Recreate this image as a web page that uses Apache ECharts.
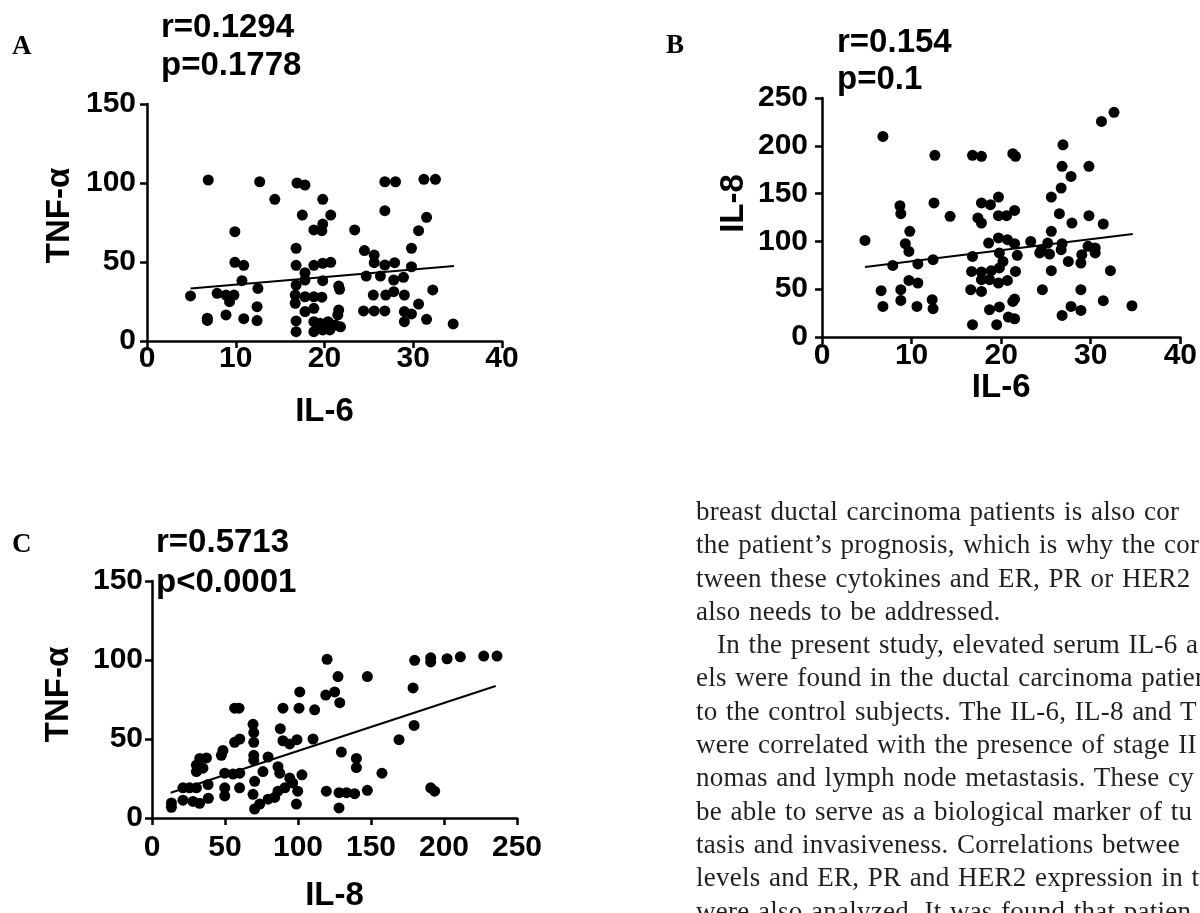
<!DOCTYPE html>
<html><head><meta charset="utf-8">
<script src="https://cdn.jsdelivr.net/npm/echarts@6/dist/echarts.min.js"></script>
<style>
html,body{margin:0;padding:0;background:#fff;overflow:hidden;}
#wrap{position:relative;width:1200px;height:913px;overflow:hidden;}
#c{position:absolute;left:0;top:0;width:1200px;height:913px;}
#para{position:absolute;left:696px;top:495px;width:700px;font-family:"Liberation Serif","Times New Roman",serif;font-size:27px;line-height:33.3px;color:#231f20;letter-spacing:0.25px;word-spacing:1.5px;white-space:nowrap;}
#para div.ind{text-indent:21px;}
</style>
</head><body><div id="wrap"><div id="c"></div><div id="para"></div></div>
<script>
// ---- Panel A: IL-6 vs TNF-α ----
const dataA = [[6.9,101.9],[12.7,100.8],[16.9,100],[17.8,98.7],[14.4,89.7],[19.8,89.7],[17.5,79.7],[20.7,79.7],[19.8,74],[18.8,70.3],[19.7,69.8],[9.9,69.2],[23.4,70.3],[26.8,82.5],[26.8,100.8],[28.0,100.8],[31.2,102.3],[32.5,102.3],[31.5,78.3],[30.6,69.8],[29.8,58.7],[16.8,58.7],[24.5,57.2],[25.6,54.4],[25.6,49.6],[26.8,48.1],[27.9,49.6],[9.9,49.8],[10.9,47.9],[16.8,47.9],[17.8,43.2],[18.8,47.9],[19.8,49.2],[20.7,49.8],[29.8,47],[24.7,41.1],[26.3,41.1],[10.7,38.2],[12.5,33.3],[16.8,35.4],[17.8,38.6],[19.8,38.2],[21.6,34.8],[21.7,32.7],[27.8,38.6],[27.8,31.2],[28.9,40.3],[32.2,32.3],[4.9,28.5],[7.9,30.2],[8.9,29.1],[9.8,29.1],[9.3,24.9],[16.7,29.1],[17.8,28],[18.8,28],[19.7,27.7],[25.5,29.1],[26.9,29.1],[29,29.1],[16.7,23.9],[12.4,21.7],[17.8,18.6],[18.8,20.7],[21.6,19.6],[21.5,16.5],[24.4,19],[25.6,19],[26.8,19],[29,18.6],[29.8,17.1],[30.6,23.4],[6.8,14.4],[6.8,13],[8.9,16.5],[10.9,14.1],[12.4,12.9],[16.8,12.7],[16.8,5.9],[18.8,12.2],[19.5,11.2],[20.4,12.2],[21.2,10.1],[18.8,5.9],[19.8,7],[20.6,7],[21.8,9],[29,12.2],[31.5,13.7],[34.5,10.8]];
const fitA = [[4.9,33.3],[34.6,47.5]];
const statsA = ['r=0.1294','p=0.1778'];

// ---- Panel B: IL-6 vs IL-8 ----
const dataB = [[4.8,101],[6.8,209.8],[12.6,190],[16.8,190],[17.8,189],[21.3,191.7],[21.6,189],[26.9,201],[26.8,178.5],[27.8,168],[29.8,178.5],[26.7,155.8],[25.6,146.4],[31.2,225.5],[32.6,235],[8.7,137.3],[8.8,129],[12.5,140.2],[14.3,126.2],[17.8,140.2],[18.8,138.4],[19.7,146.4],[17.4,124.5],[17.8,119.2],[19.7,126.9],[20.6,126.9],[21.5,132.4],[26.5,129],[27.9,119.2],[29.8,126.9],[31.4,118.2],[9.8,110.5],[9.3,97.6],[9.7,89.5],[25.6,110.5],[18.6,98.3],[19.7,103.6],[20.7,101.8],[21.5,97.6],[23.3,100],[25.2,98.3],[26.8,97.6],[24.5,91.3],[24.3,87.9],[25.4,86.8],[26.7,91.3],[29.7,94.8],[30.5,93.1],[30.5,87.9],[29,86.1],[28.9,77.4],[27.5,79.1],[21.8,85.4],[16.8,84.3],[19.8,87.9],[20.2,79.1],[12.4,80.9],[10.7,76.4],[7.9,74.9],[16.7,68.6],[17.8,68],[18.9,69.4],[19.8,72.2],[21.6,68.6],[25.6,69.4],[32.2,69.4],[17.8,60],[18.7,60],[19.7,56.5],[20.7,59.2],[9.7,59.2],[10.7,56.5],[6.6,48.4],[8.8,49.5],[8.8,38.3],[16.6,49.5],[17.8,47.7],[24.6,49.5],[28.9,49.5],[6.8,32],[10.6,32],[12.3,39],[12.4,29.6],[21.3,37.2],[21.5,39.7],[31.4,38],[34.6,32.7],[18.7,28.6],[19.8,31.4],[20.8,20.9],[21.5,19.1],[27.8,32],[28.9,27.8],[26.8,22.6],[16.8,12.9],[19.5,12.9]];
const fitB = [[4.8,73.2],[34.7,107.7]];
const statsB = ['r=0.154','p=0.1'];

// ---- Panel C: IL-8 vs TNF-α ----
const dataC = [[13.3,6.8],[13.3,9.5],[21.2,19.1],[25.8,19.1],[30.4,19.1],[21.2,11.3],[28.1,10.5],[32.6,9.3],[38.6,12.5],[30.4,33.5],[32.7,37.7],[37.3,38],[30.4,29.4],[34.9,31.5],[38.4,21.2],[47.5,39.7],[48.6,42.8],[49.8,28.4],[55.5,27.8],[60.1,28.4],[49.8,19.1],[49.8,14],[60,19.1],[56.6,47.9],[60.1,50],[56.6,69.5],[59.6,69.5],[69.2,59.3],[69.7,54.1],[69.7,47.9],[69.7,39.7],[69.7,36.6],[70.3,23.2],[76,29.4],[79.5,38.6],[86.3,32.5],[87.5,28.4],[69.2,15],[70.3,5.7],[73.8,8.8],[79.5,11.9],[84,13],[86.3,17],[87.9,56.5],[89.7,48.9],[94.3,46.9],[99.3,49.6],[89.7,69.5],[101.2,79.8],[100.7,69.5],[111.4,68.5],[110.3,50],[91,19.1],[96.3,22.2],[99.8,17],[98.9,8.8],[102.7,27.3],[94.3,25.3],[119.9,100.4],[119,77.8],[125.1,79.8],[127.4,89.5],[128.6,73],[129.7,41.7],[140,37.7],[140,31.9],[147.5,89.5],[119.4,17],[128.1,16],[133.2,16],[138.8,15.4],[128.1,6.4],[147.5,17.5],[157.5,28.4],[169.2,49.6],[179.5,58.6],[178.8,82.3],[179.9,99.8],[190.9,101.4],[190.9,98.8],[202.1,100.8],[211.2,102],[227.2,102.5],[236.3,102.5],[190.9,19.1],[193.6,17]];
const fitC = [[12.8,16],[235.4,83.5]];
const statsC = ['r=0.5713','p<0.0001'];

// axis titles and ticks
const axisNames = {A:['IL-6','TNF-α'], B:['IL-6','IL-8'], C:['IL-8','TNF-α']};
const xTicksA = [0,10,20,30,40], yTicksA = [0,50,100,150];
const xTicksB = [0,10,20,30,40], yTicksB = [0,50,100,150,200,250];
const xTicksC = [0,50,100,150,200,250], yTicksC = [0,50,100,150];
const panelLetters = ['A','B','C'];

const paragraphLines = [
  'breast ductal carcinoma patients is also cor',
  'the patient\u2019s prognosis, which is why the cor',
  'tween these cytokines and ER, PR or HER2',
  'also needs to be addressed.',
  'In the present study, elevated serum IL-6 a',
  'els were found in the ductal carcinoma patient',
  'to the control subjects. The IL-6, IL-8 and T',
  'were correlated with the presence of stage II',
  'nomas and lymph node metastasis. These cy',
  'be able to serve as a biological marker of tu',
  'tasis and invasiveness. Correlations betwee',
  'levels and ER, PR and HER2 expression in tu',
  'were also analyzed. It was found that patien'
];

const SANS = '"Liberation Sans", Arial, sans-serif';
const SERIF = '"Liberation Serif", "Times New Roman", serif';

function xAxis(gi, ticks, name, gap, lm) {
  return {
    type:'value', gridIndex:gi, min:ticks[0], max:ticks[ticks.length-1], interval:ticks[1]-ticks[0],
    name:name, nameLocation:'middle', nameGap:gap,
    nameTextStyle:{fontFamily:SANS, fontWeight:'bold', fontSize:33, color:'#000'},
    axisLine:{show:true, onZero:false, lineStyle:{color:'#000', width:2.5}},
    axisTick:{show:true, inside:false, length:7, lineStyle:{color:'#000', width:2.5}},
    axisLabel:{fontFamily:SANS, fontWeight:'bold', fontSize:30, color:'#000', margin:lm},
    splitLine:{show:false}
  };
}
function yAxis(gi, ticks, name, gap, lm, shift) {
  return {
    type:'value', gridIndex:gi, min:ticks[0], max:ticks[ticks.length-1], interval:ticks[1]-ticks[0],
    name:name, nameLocation:'middle', nameGap:gap, nameRotate:90,
    nameTextStyle:{fontFamily:SANS, fontWeight:'bold', fontSize:33, color:'#000', padding:[0,0,0,shift]},
    axisLine:{show:true, onZero:false, lineStyle:{color:'#000', width:2.5}},
    axisTick:{show:true, inside:false, length:7, lineStyle:{color:'#000', width:2.5}},
    axisLabel:{fontFamily:SANS, fontWeight:'bold', fontSize:30, color:'#000', margin:lm},
    splitLine:{show:false}
  };
}
function scatter(i, d) {
  return {type:'scatter', xAxisIndex:i, yAxisIndex:i, data:d, symbol:'circle', symbolSize:11,
    itemStyle:{color:'#000', opacity:1}, silent:true, animation:false};
}
function fit(i, d) {
  return {type:'line', xAxisIndex:i, yAxisIndex:i, data:d, symbol:'none',
    lineStyle:{color:'#000', width:2}, silent:true, animation:false};
}
function txt(t, x, y, size, family, weight, color) {
  return {type:'text', x:x, y:y, silent:true,
    style:{text:t, fontSize:size, fontFamily:family, fontWeight:weight, fill:color||'#000', verticalAlign:'middle'}};
}

const graphics = [
  txt(panelLetters[0], 12, 47, 27, SERIF, 'bold'),
  txt(panelLetters[1], 666, 46, 27, SERIF, 'bold'),
  txt(panelLetters[2], 12, 545, 27, SERIF, 'bold'),
  txt(statsA[0], 161, 28, 33, SANS, 'bold'),
  txt(statsA[1], 161, 66, 33, SANS, 'bold'),
  txt(statsB[0], 837, 43, 33, SANS, 'bold'),
  txt(statsB[1], 837, 80, 33, SANS, 'bold'),
  txt(statsC[0], 156, 543, 33, SANS, 'bold'),
  txt(statsC[1], 156, 583, 33, SANS, 'bold')
];

const para = document.getElementById('para');
paragraphLines.forEach((l, i) => {
  const d = document.createElement('div');
  d.textContent = l;
  if (i === 4) d.className = 'ind';
  para.appendChild(d);
});

const chart = echarts.init(document.getElementById('c'), null, {renderer:'canvas'});
chart.setOption({
  animation:false,
  backgroundColor:'transparent',
  grid:[
    {left:147, top:104, width:355, height:237},
    {left:822, top:98, width:359, height:239},
    {left:152, top:581, width:365, height:243}
  ],
  xAxis:[xAxis(0, xTicksA, axisNames.A[0], 54, 3), xAxis(1, xTicksB, axisNames.B[0], 30, 4), xAxis(2, xTicksC, axisNames.C[0], 61, 15)],
  yAxis:[yAxis(0, yTicksA, axisNames.A[1], 71, 11, 14), yAxis(1, yTicksB, axisNames.B[1], 72, 14, 28), yAxis(2, yTicksC, axisNames.C[1], 77, 9, 10)],
  series:[scatter(0, dataA), fit(0, fitA), scatter(1, dataB), fit(1, fitB), scatter(2, dataC), fit(2, fitC)],
  graphic:graphics
});
</script></body></html>
